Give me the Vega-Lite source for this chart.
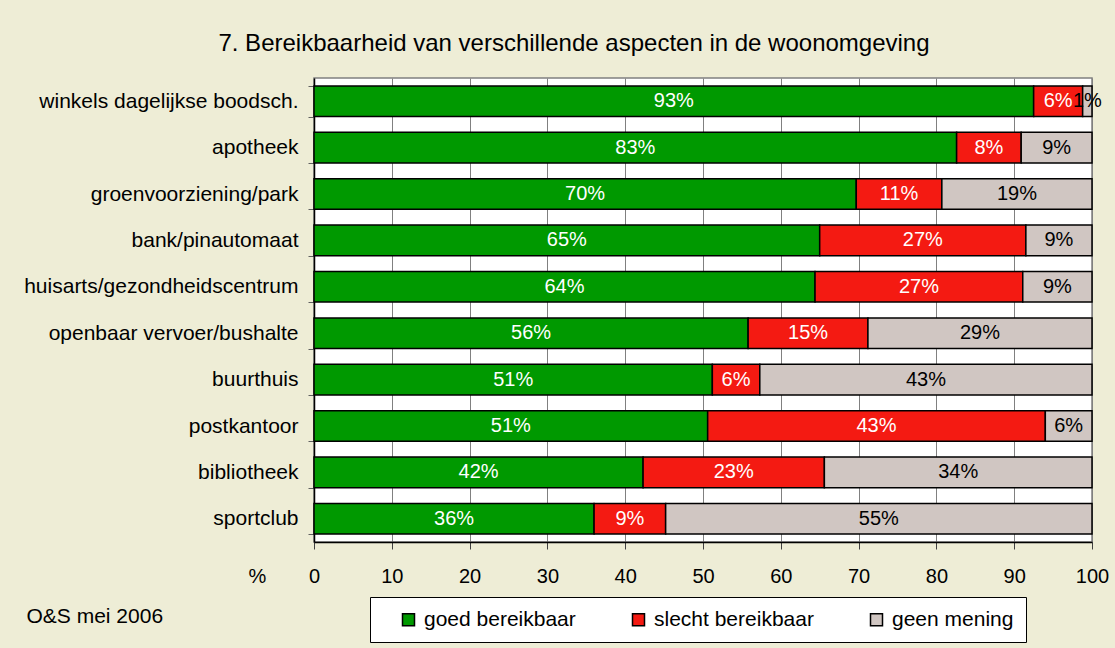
{
  "$schema": "https://vega.github.io/schema/vega-lite/v6.json",
  "width": 778,
  "height": 464,
  "autosize": {"type": "none"},
  "padding": {"left": 314, "top": 78, "right": 23, "bottom": 106},
  "background": "#EEEDD6",
  "config": {
    "font": "Liberation Sans",
    "view": {"stroke": "#808080", "strokeWidth": 1.5, "fill": "white"}
  },
  "title": {
    "text": "7. Bereikbaarheid van verschillende aspecten in de woonomgeving",
    "fontSize": 24,
    "fontWeight": "normal",
    "font": "Liberation Sans",
    "color": "black",
    "anchor": "middle",
    "frame": "group",
    "dx": -129,
    "dy": 33,
    "offset": 25,
    "baseline": "alphabetic"
  },
  "data": {
    "values": [
      {"item": "winkels dagelijkse boodsch.", "cat": "goed bereikbaar", "i": 1, "v": 92.5, "label": "93%"},
      {"item": "winkels dagelijkse boodsch.", "cat": "slecht bereikbaar", "i": 2, "v": 6.3, "label": "6%"},
      {"item": "winkels dagelijkse boodsch.", "cat": "geen mening", "i": 3, "v": 1.2, "label": "1%"},
      {"item": "apotheek", "cat": "goed bereikbaar", "i": 1, "v": 82.6, "label": "83%"},
      {"item": "apotheek", "cat": "slecht bereikbaar", "i": 2, "v": 8.3, "label": "8%"},
      {"item": "apotheek", "cat": "geen mening", "i": 3, "v": 9.1, "label": "9%"},
      {"item": "groenvoorziening/park", "cat": "goed bereikbaar", "i": 1, "v": 69.7, "label": "70%"},
      {"item": "groenvoorziening/park", "cat": "slecht bereikbaar", "i": 2, "v": 11.0, "label": "11%"},
      {"item": "groenvoorziening/park", "cat": "geen mening", "i": 3, "v": 19.3, "label": "19%"},
      {"item": "bank/pinautomaat", "cat": "goed bereikbaar", "i": 1, "v": 65.0, "label": "65%"},
      {"item": "bank/pinautomaat", "cat": "slecht bereikbaar", "i": 2, "v": 26.5, "label": "27%"},
      {"item": "bank/pinautomaat", "cat": "geen mening", "i": 3, "v": 8.5, "label": "9%"},
      {"item": "huisarts/gezondheidscentrum", "cat": "goed bereikbaar", "i": 1, "v": 64.4, "label": "64%"},
      {"item": "huisarts/gezondheidscentrum", "cat": "slecht bereikbaar", "i": 2, "v": 26.7, "label": "27%"},
      {"item": "huisarts/gezondheidscentrum", "cat": "geen mening", "i": 3, "v": 8.9, "label": "9%"},
      {"item": "openbaar vervoer/bushalte", "cat": "goed bereikbaar", "i": 1, "v": 55.8, "label": "56%"},
      {"item": "openbaar vervoer/bushalte", "cat": "slecht bereikbaar", "i": 2, "v": 15.4, "label": "15%"},
      {"item": "openbaar vervoer/bushalte", "cat": "geen mening", "i": 3, "v": 28.8, "label": "29%"},
      {"item": "buurthuis", "cat": "goed bereikbaar", "i": 1, "v": 51.2, "label": "51%"},
      {"item": "buurthuis", "cat": "slecht bereikbaar", "i": 2, "v": 6.1, "label": "6%"},
      {"item": "buurthuis", "cat": "geen mening", "i": 3, "v": 42.7, "label": "43%"},
      {"item": "postkantoor", "cat": "goed bereikbaar", "i": 1, "v": 50.6, "label": "51%"},
      {"item": "postkantoor", "cat": "slecht bereikbaar", "i": 2, "v": 43.4, "label": "43%"},
      {"item": "postkantoor", "cat": "geen mening", "i": 3, "v": 6.0, "label": "6%"},
      {"item": "bibliotheek", "cat": "goed bereikbaar", "i": 1, "v": 42.3, "label": "42%"},
      {"item": "bibliotheek", "cat": "slecht bereikbaar", "i": 2, "v": 23.3, "label": "23%"},
      {"item": "bibliotheek", "cat": "geen mening", "i": 3, "v": 34.4, "label": "34%"},
      {"item": "sportclub", "cat": "goed bereikbaar", "i": 1, "v": 36.0, "label": "36%"},
      {"item": "sportclub", "cat": "slecht bereikbaar", "i": 2, "v": 9.2, "label": "9%"},
      {"item": "sportclub", "cat": "geen mening", "i": 3, "v": 54.8, "label": "55%"}
    ]
  },
  "transform": [
    {"stack": "v", "groupby": ["item"], "sort": [{"field": "i", "order": "ascending"}], "as": ["x0", "x1"]},
    {"calculate": "(datum.x0 + datum.x1) / 2", "as": "xm"}
  ],
  "encoding": {
    "y": {
      "field": "item",
      "type": "nominal",
      "sort": null,
      "scale": {"paddingInner": 0.34, "paddingOuter": 0.17},
      "axis": {
        "title": "O&S mei 2006",
        "titleAngle": 0,
        "titleX": -288,
        "titleY": 544,
        "titleAlign": "left",
        "titleBaseline": "alphabetic",
        "titleFontSize": 21,
        "titleFontWeight": "normal",
        "titleColor": "black",
        "tickBand": "extent",
        "tickSize": 6,
        "tickColor": "#606060",
        "domainColor": "black",
        "domainWidth": 1.5,
        "labelFontSize": 21,
        "labelPadding": 10,
        "labelLimit": 400,
        "labelColor": "black",
        "grid": false
      }
    }
  },
  "layer": [
    {
      "mark": {"type": "bar", "stroke": "black", "strokeWidth": 1.5},
      "encoding": {
        "x": {
          "field": "x0",
          "type": "quantitative",
          "scale": {"domain": [0, 100], "nice": false},
          "axis": {
            "title": "%",
            "titleX": -57,
            "titleY": 40,
            "titleAlign": "center",
            "titleBaseline": "alphabetic",
            "titleFontSize": 20,
            "titleFontWeight": "normal",
            "titleColor": "black",
            "values": [0, 10, 20, 30, 40, 50, 60, 70, 80, 90, 100],
            "grid": true,
            "gridColor": "#808080",
            "gridWidth": 1,
            "domainColor": "black",
            "domainWidth": 1.5,
            "tickColor": "#404040",
            "tickSize": 7,
            "labelFontSize": 20,
            "labelColor": "black",
            "labelBaseline": "alphabetic",
            "labelPadding": 33,
            "labelFlush": false
          }
        },
        "x2": {"field": "x1"},
        "color": {
          "field": "cat",
          "type": "nominal",
          "scale": {
            "domain": ["goed bereikbaar", "slecht bereikbaar", "geen mening"],
            "range": ["#009900", "#F41A12", "#D0C6C2"]
          },
          "legend": {
            "orient": "none",
            "legendX": 56,
            "legendY": 519,
            "direction": "horizontal",
            "title": null,
            "fillColor": "white",
            "strokeColor": "black",
            "padding": 12,
            "symbolType": "square",
            "symbolSize": 144,
            "symbolStrokeColor": "black",
            "symbolStrokeWidth": 1.5,
            "symbolOpacity": 1,
            "symbolOffset": 16,
            "labelFontSize": 21,
            "labelOffset": 5,
            "columnPadding": 36,
            "labelColor": "black",
            "labelLimit": 300
          }
        }
      }
    },
    {
      "mark": {"type": "text", "fontSize": 20, "align": "center", "baseline": "middle"},
      "encoding": {
        "x": {"field": "xm", "type": "quantitative", "axis": {"title": "%"}},
        "text": {"field": "label"},
        "color": {
          "condition": {"test": "datum.cat == 'geen mening'", "value": "black"},
          "value": "white"
        }
      }
    }
  ]
}
